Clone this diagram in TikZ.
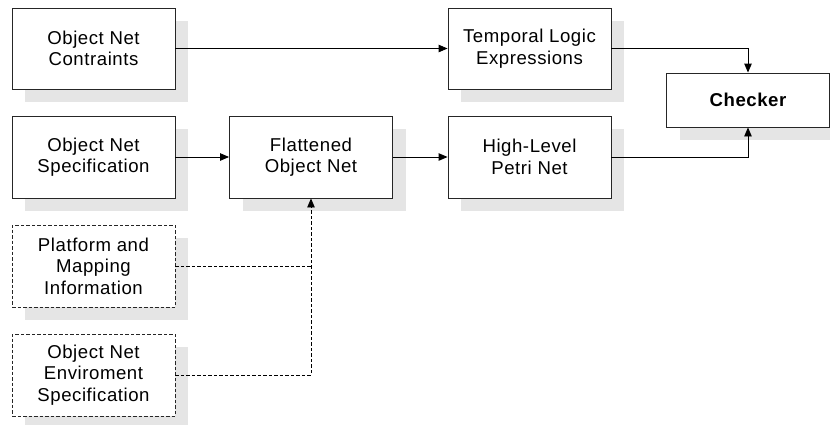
\documentclass[tikz,border=0pt]{standalone}
\usepackage{fontspec}
\setmainfont[LetterSpace=3]{Liberation Sans}
\usetikzlibrary{arrows.meta,shadows}
\begin{document}
\begin{tikzpicture}[x=1pt,y=-1pt,
  boxbase/.style={draw=black!85, line width=0.9pt, fill=white, align=center,
    minimum width=163pt, inner sep=0pt,
    font=\fontsize{18.6}{21.5}\selectfont,
    drop shadow={shadow xshift=13pt, shadow yshift=-13pt, fill=black!10, opacity=1}},
  solidbox/.style={boxbase, minimum height=81pt},
  dashbox/.style={boxbase, minimum height=82pt, dash pattern=on 3.5pt off 2pt},
  chkbox/.style={boxbase, minimum height=54pt, font=\fontsize{18.6}{21.5}\selectfont\bfseries},
  conn/.style={draw=black, line width=0.9pt, -{Triangle[length=9pt,width=7.5pt]}},
  dconn/.style={conn, dash pattern=on 3.5pt off 2pt},
  dline/.style={draw=black, line width=0.9pt, dash pattern=on 3.5pt off 2pt}]
\useasboundingbox (0,0) rectangle (830,424);
\node[solidbox] (cons) at (93.5,48.5) {Object Net\\Contraints};
\node[solidbox] (temp) at (529.5,48.5) {Temporal Logic\\Expressions};
\node[chkbox] (chk) at (748,100) {Checker};
\node[solidbox, minimum height=82pt] (spec) at (93.5,157) {Object Net\\Specification};
\node[solidbox, minimum height=82pt] (flat) at (311,157) {Flattened\\Object Net};
\node[solidbox, minimum height=82pt] (petri) at (529.5,157) {High-Level\\Petri Net};
\node[dashbox] (plat) at (93.5,266) {Platform and\\Mapping\\Information};
\node[dashbox] (env) at (93.5,375) {Object Net\\Enviroment\\Specification};
\draw[conn] (cons) -- (temp);
\draw[conn] (temp.east) -| (chk.north);
\draw[conn] (petri.east) -| (chk.south);
\draw[conn] (spec) -- (flat);
\draw[conn] (flat) -- (petri);
\draw[dline] (plat.east) -- (plat.east -| flat.south);
\draw[dconn] (env.east) -| (flat.south);
\end{tikzpicture}
\end{document}
